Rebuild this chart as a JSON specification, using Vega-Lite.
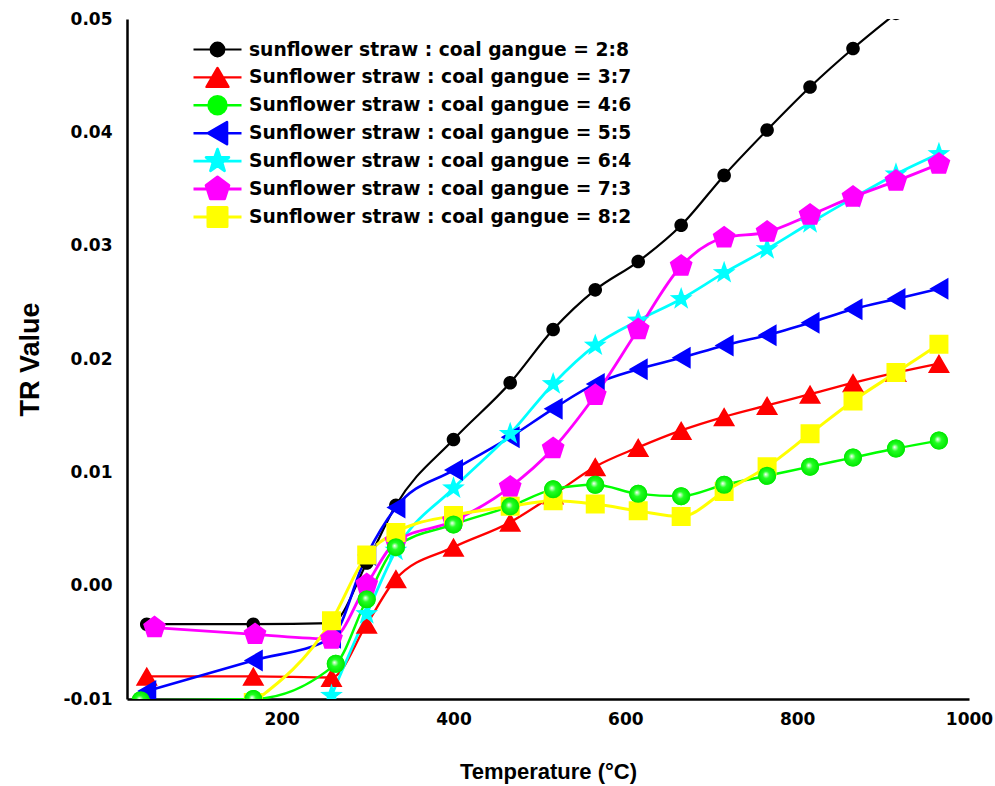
{
  "$schema": "https://vega.github.io/schema/vega-lite/v6.json",
  "width": 842,
  "height": 680,
  "autosize": "none",
  "padding": {"left": 127, "top": 19, "right": 26, "bottom": 87},
  "background": "white",
  "config": {"view": {"stroke": null}, "font": "DejaVu Sans"},
  "data": {"values": [
    {"r":"2:8","T":43,"v":-0.0034},{"r":"2:8","T":167,"v":-0.0034},{"r":"2:8","T":258,"v":-0.0033},{"r":"2:8","T":299,"v":0.0020},{"r":"2:8","T":333,"v":0.0071},{"r":"2:8","T":400,"v":0.0129},{"r":"2:8","T":466,"v":0.0179},{"r":"2:8","T":516,"v":0.0226},{"r":"2:8","T":565,"v":0.0261},{"r":"2:8","T":615,"v":0.0286},{"r":"2:8","T":665,"v":0.0318},{"r":"2:8","T":715,"v":0.0362},{"r":"2:8","T":765,"v":0.0402},{"r":"2:8","T":815,"v":0.0440},{"r":"2:8","T":865,"v":0.0474},{"r":"2:8","T":915,"v":0.0505},
    {"r":"3:7","T":43,"v":-0.0080},{"r":"3:7","T":167,"v":-0.0080},{"r":"3:7","T":258,"v":-0.0081},{"r":"3:7","T":299,"v":-0.0034},{"r":"3:7","T":333,"v":0.0006},{"r":"3:7","T":400,"v":0.0034},{"r":"3:7","T":466,"v":0.0056},{"r":"3:7","T":516,"v":0.0080},{"r":"3:7","T":565,"v":0.0105},{"r":"3:7","T":615,"v":0.0122},{"r":"3:7","T":665,"v":0.0137},{"r":"3:7","T":715,"v":0.0149},{"r":"3:7","T":765,"v":0.0159},{"r":"3:7","T":815,"v":0.0169},{"r":"3:7","T":865,"v":0.0179},{"r":"3:7","T":915,"v":0.0188},{"r":"3:7","T":965,"v":0.0196},
    {"r":"4:6","T":36,"v":-0.0101},{"r":"4:6","T":167,"v":-0.0100},{"r":"4:6","T":263,"v":-0.0069},{"r":"4:6","T":299,"v":-0.0012},{"r":"4:6","T":333,"v":0.0034},{"r":"4:6","T":400,"v":0.0054},{"r":"4:6","T":466,"v":0.0070},{"r":"4:6","T":516,"v":0.0085},{"r":"4:6","T":565,"v":0.0089},{"r":"4:6","T":615,"v":0.0081},{"r":"4:6","T":665,"v":0.0079},{"r":"4:6","T":715,"v":0.0089},{"r":"4:6","T":765,"v":0.0097},{"r":"4:6","T":815,"v":0.0105},{"r":"4:6","T":865,"v":0.0113},{"r":"4:6","T":915,"v":0.0121},{"r":"4:6","T":965,"v":0.0128},
    {"r":"5:5","T":43,"v":-0.0093},{"r":"5:5","T":167,"v":-0.0066},{"r":"5:5","T":258,"v":-0.0046},{"r":"5:5","T":299,"v":0.0027},{"r":"5:5","T":333,"v":0.0069},{"r":"5:5","T":400,"v":0.0102},{"r":"5:5","T":466,"v":0.0131},{"r":"5:5","T":516,"v":0.0156},{"r":"5:5","T":565,"v":0.0178},{"r":"5:5","T":615,"v":0.0191},{"r":"5:5","T":665,"v":0.0201},{"r":"5:5","T":715,"v":0.0212},{"r":"5:5","T":765,"v":0.0221},{"r":"5:5","T":815,"v":0.0232},{"r":"5:5","T":865,"v":0.0244},{"r":"5:5","T":915,"v":0.0253},{"r":"5:5","T":965,"v":0.0262},
    {"r":"6:4","T":258,"v":-0.0097},{"r":"6:4","T":299,"v":-0.0025},{"r":"6:4","T":333,"v":0.0031},{"r":"6:4","T":400,"v":0.0086},{"r":"6:4","T":466,"v":0.0134},{"r":"6:4","T":516,"v":0.0178},{"r":"6:4","T":565,"v":0.0212},{"r":"6:4","T":615,"v":0.0234},{"r":"6:4","T":665,"v":0.0253},{"r":"6:4","T":715,"v":0.0276},{"r":"6:4","T":765,"v":0.0297},{"r":"6:4","T":815,"v":0.0320},{"r":"6:4","T":865,"v":0.0342},{"r":"6:4","T":915,"v":0.0363},{"r":"6:4","T":965,"v":0.0381},
    {"r":"7:3","T":52,"v":-0.0037},{"r":"7:3","T":169,"v":-0.0043},{"r":"7:3","T":258,"v":-0.0047},{"r":"7:3","T":299,"v":0.0001},{"r":"7:3","T":333,"v":0.0039},{"r":"7:3","T":400,"v":0.0057},{"r":"7:3","T":466,"v":0.0087},{"r":"7:3","T":516,"v":0.0121},{"r":"7:3","T":565,"v":0.0168},{"r":"7:3","T":615,"v":0.0226},{"r":"7:3","T":665,"v":0.0282},{"r":"7:3","T":715,"v":0.0307},{"r":"7:3","T":765,"v":0.0312},{"r":"7:3","T":815,"v":0.0327},{"r":"7:3","T":865,"v":0.0343},{"r":"7:3","T":915,"v":0.0357},{"r":"7:3","T":965,"v":0.0372},
    {"r":"8:2","T":167,"v":-0.0103},{"r":"8:2","T":258,"v":-0.0031},{"r":"8:2","T":299,"v":0.0027},{"r":"8:2","T":333,"v":0.0047},{"r":"8:2","T":400,"v":0.0062},{"r":"8:2","T":466,"v":0.0070},{"r":"8:2","T":516,"v":0.0075},{"r":"8:2","T":565,"v":0.0072},{"r":"8:2","T":615,"v":0.0066},{"r":"8:2","T":665,"v":0.0061},{"r":"8:2","T":715,"v":0.0083},{"r":"8:2","T":765,"v":0.0105},{"r":"8:2","T":815,"v":0.0134},{"r":"8:2","T":865,"v":0.0163},{"r":"8:2","T":915,"v":0.0188},{"r":"8:2","T":965,"v":0.0213}
  ]},
  "encoding": {
    "x": {
      "field": "T", "type": "quantitative",
      "scale": {"domain": [20, 1000], "nice": false, "zero": false},
      "axis": {
        "title": "Temperature (°C)",
        "values": [100,200,300,400,500,600,700,800,900,1000],
        "format": "d",
        "labelExpr": "datum.value % 200 === 0 ? datum.label : ''",
        "grid": false,
        "labelFlush": false,
        "labelOverlap": false,
        "domainColor": "black", "domainWidth": 2.5,
        "tickColor": "black", "tickWidth": 2, "tickSize": 0,
        "labelFont": "DejaVu Sans", "labelFontWeight": "bold", "labelFontSize": 17, "labelColor": "black",
        "labelBaseline": "alphabetic", "labelPadding": 25,
        "titleFont": "Liberation Sans", "titleFontWeight": "bold", "titleFontSize": 22, "titleColor": "black",
        "titleBaseline": "alphabetic", "titleY": 79,
        "encode": {"ticks": {"update": {"y2": {"signal": "datum.value % 200 === 0 ? -9 : -5"}}}}
      }
    },
    "y": {
      "field": "v", "type": "quantitative",
      "scale": {"domain": [-0.01, 0.05], "nice": false, "zero": false},
      "axis": {
        "title": "TR Value",
        "values": [-0.01,-0.005,0,0.005,0.01,0.015,0.02,0.025,0.03,0.035,0.04,0.045,0.05],
        "format": ".2f",
        "labelExpr": "round(datum.value*1000) % 10 === 0 ? replace(datum.label, '\u2212', '-') : ''",
        "grid": false,
        "labelOverlap": false,
        "domainColor": "black", "domainWidth": 2.5,
        "tickColor": "black", "tickWidth": 2, "tickSize": 0,
        "labelFont": "DejaVu Sans", "labelFontWeight": "bold", "labelFontSize": 17, "labelColor": "black",
        "labelPadding": 15,
        "titleFont": "Liberation Sans", "titleFontWeight": "bold", "titleFontSize": 27, "titleColor": "black",
        "titleBaseline": "alphabetic", "titleX": -89, "titleY": 340,
        "encode": {"ticks": {"update": {"x2": {"signal": "round(datum.value*1000) % 10 === 0 ? 9 : 5"}}}}
      }
    }
  },
  "layer": [
    {
      "mark": {"type": "line", "interpolate": "monotone", "clip": true},
      "encoding": {
        "stroke": {"field": "r", "type": "nominal",
          "scale": {"domain": ["2:8","3:7","4:6","5:5","6:4","7:3","8:2"], "range": ["#000000","#ff0000","#00ff00","#0000ff","#00ffff","#ff00ff","#ffff00"]},
          "legend": {
            "title": null, "orient": "none", "legendX": 79, "legendY": 19, "padding": 0,
            "symbolSize": 400, "symbolOpacity": 1, "gridAlign": "all",
            "labelFont": "DejaVu Sans", "labelFontWeight": "bold", "labelFontSize": 18.7, "labelColor": "black",
            "labelLimit": 600, "labelOffset": 20, "rowPadding": 1.9,
            "labelExpr": "(datum.label === '2:8' ? 'sunflower' : 'Sunflower') + ' straw : coal gangue = ' + datum.label",
            "encode": {"symbols": {"update": {
              "fill": {"scale": "color", "field": "value"},
              "stroke": {"scale": "stroke", "field": "value"},
              "strokeWidth": {"signal": "datum.value === '7:3' ? 1.2 : 2.2"},
              "strokeJoin": {"value": "round"},
              "shape": {"scale": "shape", "field": "value"},
              "opacity": {"value": 1}
            }}}
          }},
        "strokeWidth": {"field": "r", "type": "nominal",
          "scale": {"domain": ["2:8","3:7","4:6","5:5","6:4","7:3","8:2"], "range": [2.2,3,3,3.5,3.5,1,2.5]}}
      }
    },
    {
      "mark": {"type": "point", "filled": true, "opacity": 1, "size": 400, "clip": true},
      "encoding": {
        "color": {"field": "r", "type": "nominal",
          "scale": {"domain": ["2:8","3:7","4:6","5:5","6:4","7:3","8:2"], "range": ["#000000","#ff0000","#00ff00","#0000ff","#00ffff","#ff00ff","#ffff00"]}},
        "shape": {"field": "r", "type": "nominal",
          "scale": {"domain": ["2:8","3:7","4:6","5:5","6:4","7:3","8:2"], "range": [
            "M-2.4,0H2.4M0.68,0A0.68,0.68,0,1,1,-0.68,0A0.68,0.68,0,1,1,0.68,0Z",
            "M-2.4,0H2.4M0,-0.95L1.1,0.95L-1.1,0.95Z",
            "M-2.4,0H2.4M0.9,0A0.9,0.9,0,1,1,-0.9,0A0.9,0.9,0,1,1,0.9,0Z",
            "M-2.4,0H2.4M-0.95,0L0.95,-1.1L0.95,1.1Z",
            "M-2.4,0H2.4M0,-1.2L0.282,-0.389L1.141,-0.371L0.456,0.149L0.706,0.971L0,0.48L-0.706,0.971L-0.456,0.149L-1.141,-0.371L-0.282,-0.389Z",
            "M-2.4,0H2.4M0,-1.2L1.141,-0.371L0.706,0.971L-0.706,0.971L-1.141,-0.371Z",
            "M-2.4,0H2.4M-0.95,-0.95H0.95V0.95H-0.95Z"
          ]}}
      }
    },
    {
      "transform": [{"filter": "datum.r === '4:6'"}],
      "mark": {"type": "point", "filled": true, "opacity": 1, "shape": "circle", "size": 324, "clip": true,
        "fill": {"gradient": "radial", "x1": 0.42, "y1": 0.42, "r1": 0, "x2": 0.5, "y2": 0.5, "r2": 0.5,
          "stops": [{"offset": 0, "color": "#ffffff"}, {"offset": 0.4, "color": "#22ff22"}, {"offset": 1, "color": "#00e600"}]}}
    }
  ]
}
